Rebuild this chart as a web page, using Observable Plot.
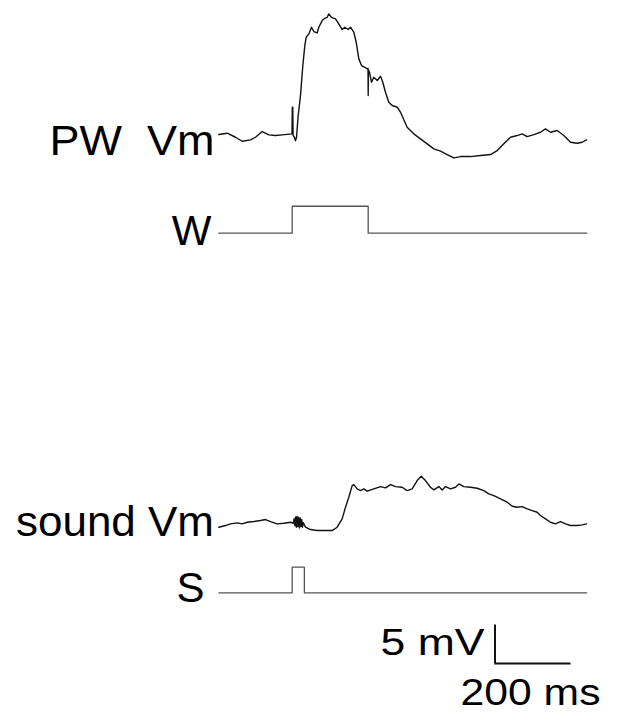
<!DOCTYPE html>
<html><head><meta charset="utf-8">
<script src="https://cdn.jsdelivr.net/npm/d3@7"></script>
<script src="https://cdn.jsdelivr.net/npm/@observablehq/plot@0.6"></script>
<style>html,body{margin:0;padding:0;background:#fff;overflow:hidden} svg text{white-space:pre}</style>
</head><body><div id="chart"></div>
<script>
// ---- data (time in ms, membrane potential in mV relative to rest) ----
const pwTime = [7,28.9,50.8,68.3,90.3,103.4,121,138.5,156,173.6,199.5,200.3,201.5,202.3,205,208.7,211.3,215.8,221.8,228,233.2,236.8,243.7,250.8,256.8,265.8,270,278.9,285.8,292.1,296.3,303.4,313.9,322.6,331.6,338.4,347.4,353.4,362.1,368.4,375.3,382.4,391.1,397.4,399.5,400,400.5,403.4,408.7,414.7,423.7,432.4,438.4,445.5,454.2,463.2,476.3,485,502.5,520,537.6,555.2,572.7,590.3,607.8,625.3,642.9,669.2,695.5,721.8,739.4,756.9,774.5,792,805.2,818.3,835.9,853.4,866.6,879.7,897.3,914.8,932.4,949.9,963.1,974.5];
const pwVm = [0,0.17,-0.35,-0.87,-0.69,-0.35,0.39,-0.04,-0.13,-0.04,0.09,3.55,3.55,-0.1,-0.3,-0.8,-0.35,2.47,5.06,8.96,11.56,12.64,13.07,13.94,13.38,13.2,13.94,14.8,15.1,15.23,15.67,15.23,15.02,14.37,13.64,13.94,13.64,13.94,13.29,11.99,9.83,8.96,8.74,8.53,8.6,5.06,8.4,8.1,6.79,7.44,7.01,7.57,6.79,5.49,4.19,3.77,3.55,2.9,0.95,0.09,-0.56,-1.21,-1.86,-2.16,-2.6,-3.03,-2.86,-2.86,-2.73,-2.6,-2.08,-1.21,-0.35,-0.13,0.09,-0.26,0,0.3,0.74,0.3,0.52,-0.13,-1.0,-1.13,-1.0,-0.69];

const soundTime = [7,24.5,37.6,55.2,68.3,81.5,99,116.6,129.7,142.9,160.4,178,195.5,203,205,207,209,211,213,215,217,219,221,223,225,227,229,235,248,265.7,287.6,305.2,318.3,331.5,340.3,349,357.8,362.2,371,379.7,388.5,397.3,414.8,432.4,445.5,458.7,471.8,489.4,502.5,515.7,528.9,539.4,550.8,563.9,572.7,585.9,594.6,603.4,616.6,629.7,638.5,651.7,669.2,686.8,704.3,717.4,730.6,748.2,765.7,778.9,792,805.2,818.3,831.5,844.6,853.4,866.6,879.7,892.9,906,919.2,932.4,949.9,963.1,974.5];
const soundVm = [0,0.22,0.43,0.56,0.43,0.65,0.74,0.87,1.0,0.74,0.43,0.52,0.65,0.52,1.1,0.2,1.35,0.0,1.4,0.1,1.3,-0.1,1.2,0.1,1.0,0.0,0.6,0,-0.3,-0.43,-0.43,-0.43,0,1.08,2.6,3.9,5.41,5.54,4.98,4.76,4.98,4.68,4.98,5.28,5.11,5.54,5.28,5.19,4.76,4.98,6.06,6.62,6.06,5.19,4.85,5.28,4.85,5.28,4.98,5.19,5.63,5.28,5.19,5.06,4.76,4.33,4.11,3.68,3.25,2.73,2.6,2.68,2.38,2.16,1.95,1.52,1.08,0.65,0.43,0.74,0.43,0.22,0.22,0.3,0.43];

// stimulus monitors (0 = off, 1 = on)
const wTime  = [7, 200, 200, 400, 400, 975];
const wLevel = [0, 0, 1, 1, 0, 0];
const sTime  = [7, 200, 200, 232, 232, 975];
const sLevel = [0, 0, 1, 1, 0, 0];

const traceLabels = ["PW  Vm", "W", "sound Vm", "S"];
const scaleBarMV = 5;
const scaleBarMS = 200;
const scaleBarLabels = [`${scaleBarMV} mV`, `${scaleBarMS} ms`];

// ---- layout (vertical baselines, in mV units of the page scale) ----
const base = {pw: 76.62, w: 63.81, sound: 25.62, s: 17.1};
const stimH = {w: 3.5, s: 3.33};
const bar = {t: 733.7, y: 7.92};

const toRows = (T, V, b, k = 1) => T.map((t, i) => ({t, y: b + k * V[i]}));
const pwRows = toRows(pwTime, pwVm, base.pw);
const soundRows = toRows(soundTime, soundVm, base.sound);
const wRows = toRows(wTime, wLevel, base.w, stimH.w);
const sRows = toRows(sTime, sLevel, base.s, stimH.s);

const font = "'Liberation Sans', Arial, Helvetica, sans-serif";
const labelRows = [
  {text: traceLabels[0], y: base.pw, dx: -1.7, dy: 20, len: 165},
  {text: traceLabels[1], y: base.w, dx: -4.7, dy: 12.3},
  {text: traceLabels[2], y: base.sound, dx: -2.2, dy: 8.3, len: 198},
  {text: traceLabels[3], y: base.s, dx: -11.7, dy: 8.7}
];

const marks = [
  Plot.line(pwRows, {x: "t", y: "y", stroke: "#111", strokeWidth: 1.4}),
  Plot.line(wRows, {x: "t", y: "y", stroke: "#555", strokeWidth: 1.3}),
  Plot.line(soundRows, {x: "t", y: "y", stroke: "#111", strokeWidth: 1.4}),
  Plot.line(sRows, {x: "t", y: "y", stroke: "#555", strokeWidth: 1.3}),
  Plot.ruleX([bar.t], {y1: bar.y, y2: bar.y + scaleBarMV, stroke: "#111", strokeWidth: 2}),
  Plot.ruleY([bar.y], {x1: bar.t - 0.5, x2: bar.t + scaleBarMS, stroke: "#111", strokeWidth: 2})
];
for (const r of labelRows) {
  marks.push(Plot.text([r.text], {x: () => 0, y: () => r.y, text: d => d, dx: r.dx, dy: r.dy,
    textAnchor: "end", lineAnchor: "bottom", fontSize: 42, fontFamily: font, fill: "#000"}));
}
marks.push(Plot.text([scaleBarLabels[0]], {x: () => bar.t, y: () => bar.y, text: d => d, dx: -114.5, dy: -8.7,
  textAnchor: "start", lineAnchor: "bottom", fontSize: 37, fontFamily: font, fill: "#000"}));
marks.push(Plot.text([scaleBarLabels[1]], {x: () => bar.t, y: () => bar.y, text: d => d, dx: -34.5, dy: 41,
  textAnchor: "start", lineAnchor: "bottom", fontSize: 37, fontFamily: font, fill: "#000"}));

const chart = Plot.plot({
  width: 627, height: 724, margin: 0,
  x: {domain: [0, 1000], range: [215.7, 595.7], axis: null},
  y: {domain: [0, 94.03], range: [724, 0], axis: null},
  style: {background: "#fff"},
  marks
});
const lengths = new Map([[scaleBarLabels[0], 104], [scaleBarLabels[1], 140]]);
for (const r of labelRows) if (r.len) lengths.set(r.text, r.len);
for (const el of chart.querySelectorAll("text")) {
  const L = lengths.get(el.textContent);
  if (L) { el.setAttribute("textLength", L); el.setAttribute("lengthAdjust", "spacingAndGlyphs"); }
}
document.getElementById("chart").append(chart);
</script></body></html>
